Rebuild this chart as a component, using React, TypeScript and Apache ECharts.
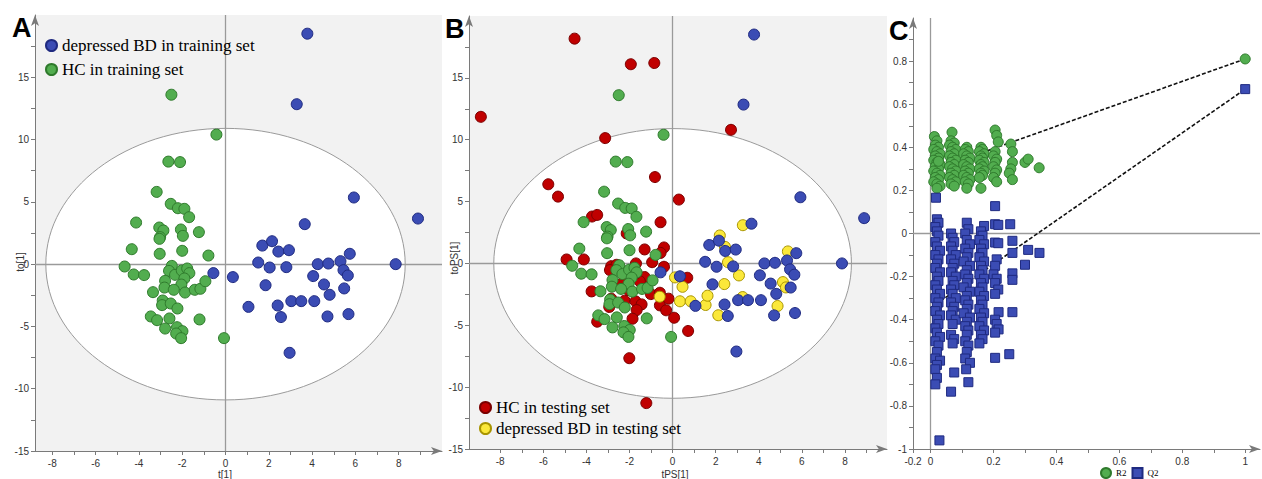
import React, { useEffect, useRef } from "react";
import * as echarts from "echarts";

// ---------- Panel A / B: OPLS-DA scores ----------
const trainHC: number[][] = [
  [-2.5, 13.6], [-0.42, 10.4], [-2.64, 8.23], [-2.1, 8.19], [-3.18, 5.8], [-2.53, 4.84], [-2.2, 4.49],
  [-1.9, 4.44], [-1.68, 3.77], [-4.13, 3.34], [-3.06, 2.94], [-2.87, 2.7], [-2.06, 2.78], [-1.23, 2.57],
  [-3.02, 2.17], [-1.97, 2.27], [-3.05, 2.03], [-4.33, 1.2], [-3.04, 0.83], [-2.0, 1.07], [-0.79, 0.69],
  [-4.66, -0.19], [-4.24, -0.83], [-3.76, -0.88], [-2.48, -0.14], [-2.61, -0.54], [-2.33, -0.86],
  [-2.02, -0.51], [-1.77, -0.35], [-1.67, -0.72], [-1.9, -1.15], [-2.79, -1.34], [-2.04, -1.64],
  [-2.82, -1.88], [-2.39, -2.06], [-1.87, -2.28], [-3.35, -2.25], [-1.42, -2.06], [-1.16, -1.98],
  [-0.93, -1.37], [-2.9, -2.92], [-2.93, -3.29], [-2.53, -3.16], [-2.22, -3.56], [-3.45, -4.2],
  [-3.16, -4.5], [-2.59, -4.36], [-1.2, -4.44], [-2.79, -5.17], [-2.24, -5.06], [-1.99, -5.38],
  [-2.28, -5.57], [-2.05, -5.94], [-0.07, -5.94],
];
const trainBD: number[][] = [
  [3.78, 18.5], [3.29, 12.84], [5.93, 5.35], [8.89, 3.66], [3.66, 3.21], [1.7, 1.49], [2.15, 1.84],
  [2.44, 1.01], [2.93, 1.12], [1.51, 0.13], [2.04, -0.27], [2.81, -0.24], [4.26, 0], [4.75, 0.05],
  [5.31, 0.24], [5.74, 0.83], [7.86, 0], [-0.56, -0.72], [0.34, -1.04], [1.85, -1.69], [4.05, -0.96],
  [4.55, -1.63], [5.45, -0.48], [5.65, -0.91], [5.48, -1.95], [4.81, -2.46], [3.04, -2.97], [3.5, -2.97],
  [4.1, -2.97], [2.41, -3.32], [1.06, -3.43], [2.56, -4.25], [4.71, -4.2], [5.68, -4.01], [2.96, -7.12],
];
const testHC: number[][] = [
  [-4.55, 18.17], [-8.9, 11.85], [-1.94, 16.1], [-0.85, 16.2], [2.71, 10.8], [-3.13, 10.13], [-0.82, 6.98],
  [-5.77, 6.4], [-5.32, 5.4], [0.29, 5.16], [-3.74, 3.79], [-3.5, 3.92], [-0.56, 3.33], [-2.13, 2.42],
  [-4.92, 0.32], [-4.12, 0.32], [-1.3, 1.13], [-0.4, 1.29], [-0.56, 0.85], [-0.95, 0.1], [-0.4, -0.27],
  [-2.85, -0.22], [-2.6, -0.11], [-1.7, 0], [-1.3, -1.1], [-1.52, -1.45], [-2.35, -1.61], [-3.76, -2.26],
  [-1.01, -2.48], [-0.59, -2.37], [-0.19, -2.85], [-2.85, -2.85], [-2.23, -3.02], [-1.72, -3.06],
  [-1.44, -3.31], [-2.94, -3.52], [-1.67, -3.77], [-0.59, -3.39], [-0.3, -3.79], [0.07, -4.39],
  [-1.86, -4.47], [-3.5, -4.71], [0.72, -5.46], [-2.01, -7.66], [-1.22, -11.29], [0.68, -1.16],
  [-2.41, -0.6], [-1.7, -0.81], [-2.91, -0.54], [-2.06, -2.15],
];
const testBD: number[][] = [
  [3.26, 3.09], [2.19, 2.26], [2.43, 1.34], [2.57, 0.1], [3.08, -0.97], [2.4, -1.67], [5.35, 0.97],
  [5.12, -1.51], [5.26, -1.94], [4.87, -3.44], [0.11, -1.13], [0.46, -1.89], [0.34, -3.06], [0.84, -3.06],
  [1.53, -3.36], [1.62, -2.61], [2.12, -4.19], [-0.6, -2.69], [3.25, -2.72],
];
// Hotelling T2 ellipse: centre and radii (t, to)
const ellipse: number[] = [0, 0, 8.3, 10.9];

const xTicksAB = [-8, -7, -6, -5, -4, -3, -2, -1, 0, 1, 2, 3, 4, 5, 6, 7, 8, 9];
const xLabelsAB = [-8, -6, -4, -2, 0, 2, 4, 6, 8];
const yTicksAB = [-15, -12.5, -10, -7.5, -5, -2.5, 0, 2.5, 5, 7.5, 10, 12.5, 15, 17.5];
const yLabelsAB = [-15, -10, -5, 0, 5, 10, 15];

// ---------- Panel C: permutation test ----------
const permR2: number[][] = [
  [0.012, 0.45], [0.02, 0.43], [0.015, 0.41], [0.025, 0.4], [0.01, 0.39], [0.02, 0.38], [0.03, 0.37],
  [0.015, 0.36], [0.025, 0.35], [0.01, 0.34], [0.02, 0.33], [0.03, 0.32], [0.015, 0.31], [0.025, 0.3],
  [0.01, 0.29], [0.02, 0.28], [0.03, 0.27], [0.015, 0.26], [0.025, 0.25], [0.01, 0.24], [0.02, 0.23],
  [0.03, 0.22], [0.02, 0.21], [0.025, 0.335],
  [0.068, 0.47], [0.065, 0.43], [0.075, 0.42], [0.06, 0.41], [0.07, 0.4], [0.08, 0.39], [0.065, 0.38],
  [0.075, 0.37], [0.06, 0.36], [0.07, 0.35], [0.08, 0.34], [0.065, 0.33], [0.075, 0.32], [0.06, 0.31],
  [0.07, 0.3], [0.08, 0.29], [0.065, 0.28], [0.075, 0.27], [0.06, 0.26], [0.07, 0.25], [0.08, 0.24],
  [0.065, 0.23], [0.075, 0.22],
  [0.115, 0.4], [0.11, 0.39], [0.12, 0.38], [0.105, 0.37], [0.115, 0.36], [0.125, 0.35], [0.11, 0.34],
  [0.12, 0.33], [0.105, 0.32], [0.115, 0.31], [0.125, 0.3], [0.11, 0.29], [0.12, 0.28], [0.105, 0.27],
  [0.115, 0.26], [0.125, 0.25], [0.11, 0.24], [0.12, 0.23], [0.115, 0.21],
  [0.16, 0.4], [0.165, 0.39], [0.155, 0.38], [0.17, 0.37], [0.16, 0.36], [0.165, 0.35], [0.155, 0.34],
  [0.17, 0.33], [0.16, 0.32], [0.165, 0.31], [0.155, 0.3], [0.17, 0.29], [0.16, 0.28], [0.165, 0.27],
  [0.155, 0.26], [0.16, 0.21],
  [0.205, 0.48], [0.21, 0.455], [0.215, 0.425], [0.205, 0.38], [0.2, 0.36], [0.21, 0.345], [0.205, 0.33],
  [0.2, 0.31], [0.21, 0.295], [0.205, 0.28], [0.2, 0.26], [0.21, 0.24],
  [0.255, 0.415], [0.26, 0.38], [0.26, 0.33], [0.255, 0.3], [0.25, 0.28], [0.26, 0.25],
  [0.3, 0.33], [0.31, 0.345], [0.345, 0.305],
];
const permQ2: number[][] = [
  [0.017, 0.166], [0.02, 0.066], [0.025, 0.05], [0.015, 0.03], [0.02, 0.01], [0.025, -0.01], [0.015, -0.04],
  [0.02, -0.06], [0.03, -0.08], [0.015, -0.1], [0.025, -0.12], [0.02, -0.14], [0.015, -0.16], [0.03, -0.18],
  [0.02, -0.2], [0.025, -0.22], [0.015, -0.24], [0.02, -0.26], [0.03, -0.28], [0.015, -0.3], [0.025, -0.32],
  [0.02, -0.34], [0.015, -0.36], [0.03, -0.38], [0.02, -0.4], [0.025, -0.42], [0.015, -0.44], [0.02, -0.46],
  [0.03, -0.48], [0.015, -0.5], [0.025, -0.52], [0.02, -0.55], [0.015, -0.58], [0.03, -0.59], [0.02, -0.61],
  [0.015, -0.63], [0.02, -0.67], [0.015, -0.7], [0.028, -0.96],
  [0.065, 0.0], [0.07, -0.02], [0.075, -0.04], [0.065, -0.06], [0.07, -0.08], [0.08, -0.1], [0.065, -0.12],
  [0.075, -0.14], [0.07, -0.16], [0.065, -0.18], [0.08, -0.2], [0.07, -0.22], [0.075, -0.24], [0.065, -0.26],
  [0.07, -0.28], [0.08, -0.3], [0.065, -0.32], [0.075, -0.34], [0.07, -0.36], [0.065, -0.38], [0.08, -0.4],
  [0.07, -0.42], [0.065, -0.47], [0.075, -0.49], [0.07, -0.51], [0.075, -0.645], [0.065, -0.734],
  [0.115, 0.05], [0.12, 0.02], [0.11, 0.0], [0.115, -0.03], [0.125, -0.05], [0.11, -0.07], [0.12, -0.09],
  [0.115, -0.11], [0.105, -0.13], [0.125, -0.15], [0.115, -0.17], [0.11, -0.19], [0.12, -0.21], [0.115, -0.23],
  [0.105, -0.25], [0.125, -0.27], [0.115, -0.29], [0.11, -0.31], [0.12, -0.33], [0.115, -0.35], [0.105, -0.37],
  [0.125, -0.39], [0.115, -0.41], [0.11, -0.43], [0.12, -0.45], [0.115, -0.47], [0.11, -0.5], [0.12, -0.52],
  [0.115, -0.55], [0.11, -0.58], [0.125, -0.6], [0.113, -0.63], [0.12, -0.69],
  [0.17, 0.035], [0.16, 0.01], [0.165, -0.01], [0.155, -0.03], [0.17, -0.05], [0.16, -0.07], [0.165, -0.09],
  [0.155, -0.11], [0.17, -0.13], [0.16, -0.15], [0.165, -0.17], [0.155, -0.19], [0.17, -0.21], [0.16, -0.23],
  [0.165, -0.25], [0.155, -0.27], [0.17, -0.29], [0.16, -0.31], [0.165, -0.33], [0.155, -0.35], [0.17, -0.37],
  [0.16, -0.39], [0.165, -0.41], [0.155, -0.43], [0.17, -0.45], [0.16, -0.47], [0.165, -0.49], [0.155, -0.51],
  [0.205, 0.127], [0.205, 0.043], [0.215, 0.04], [0.205, -0.042], [0.215, -0.045], [0.21, -0.12],
  [0.205, -0.15], [0.2, -0.19], [0.21, -0.21], [0.205, -0.23], [0.215, -0.26], [0.205, -0.28],
  [0.216, -0.365], [0.205, -0.4], [0.21, -0.42], [0.216, -0.445], [0.205, -0.46], [0.205, -0.577],
  [0.253, 0.043], [0.26, -0.034], [0.26, -0.09], [0.26, -0.185], [0.26, -0.215], [0.26, -0.365], [0.25, -0.56],
  [0.31, -0.076], [0.346, -0.09], [0.3, -0.145],
];
const origR2: number[] = [1, 0.81];
const origQ2: number[] = [1, 0.67];
const r2Intercept: number[] = [0, 0.29];
const q2Intercept: number[] = [0, -0.345];

const xMinC = -0.056;
const xTicksC = [xMinC, 0, 0.1, 0.2, 0.3, 0.4, 0.5, 0.6, 0.7, 0.8, 0.9, 1];
const xLabelsC = [xMinC, 0, 0.2, 0.4, 0.6, 0.8, 1];
const yTicksC = [-1, -0.9, -0.8, -0.7, -0.6, -0.5, -0.4, -0.3, -0.2, -0.1, 0, 0.1, 0.2, 0.3, 0.4, 0.5, 0.6, 0.7, 0.8, 0.9];
const yLabelsC = [-1, -0.8, -0.6, -0.4, -0.2, 0, 0.2, 0.4, 0.6, 0.8];

const GREEN = "#52ad4f";
const GREEN_B = "#2f7a2c";
const BLUE = "#3b4cb4";
const BLUE_B = "#1f2a80";
const RED = "#c00000";
const RED_B = "#7a0000";
const YELLOW = "#fbe83a";
const YELLOW_B = "#a89400";

const SANS = "'Liberation Sans', Arial, sans-serif";
const SERIF = "'Liberation Serif', 'Times New Roman', serif";

const fmt = (v: number) => String(Math.round(v * 10) / 10);

function axis(gridIndex: number, min: number, max: number, ticks: number[], labels: number[], isX: boolean, labelFmt?: (v: number) => string) {
  return {
    type: "value",
    gridIndex,
    min,
    max,
    axisLine: {
      show: true,
      onZero: false,
      lineStyle: { color: "#7a7a7a", width: 1 },
      symbol: ["none", "arrow"],
      symbolSize: [6, 11],
    },
    axisTick: { show: true, length: 4, customValues: ticks, lineStyle: { color: "#7a7a7a" } },
    axisLabel: {
      customValues: labels,
      color: "#333",
      fontSize: 10,
      fontFamily: SANS,
      margin: isX ? 7 : 6,
      formatter: labelFmt || ((v: number) => fmt(v)),
    },
    splitLine: { show: false },
  };
}

const zeroLines = {
  silent: true,
  z: 2,
  symbol: ["none", "none"],
  label: { show: false },
  lineStyle: { color: "#9a9a9a", width: 1.3, type: "solid" },
  data: [{ xAxis: 0 }, { yAxis: 0 }],
};

function ellipseSeries(idx: number) {
  return {
    type: "custom",
    xAxisIndex: idx,
    yAxisIndex: idx,
    silent: true,
    z: 1,
    data: [ellipse],
    renderItem: (_p: any, api: any) => {
      const c = api.coord([api.value(0), api.value(1)]);
      const s = api.size([api.value(2), api.value(3)]);
      return {
        type: "ellipse",
        shape: { cx: c[0], cy: c[1], rx: s[0], ry: s[1] },
        style: { fill: "#ffffff", stroke: "#9a9a9a", lineWidth: 1 },
      };
    },
  };
}

function scatter(name: string, idx: number, data: number[][], color: string, border: string, size = 11, symbol = "circle", extra: any = {}) {
  return {
    type: "scatter",
    name,
    xAxisIndex: idx,
    yAxisIndex: idx,
    data,
    symbol,
    symbolSize: size,
    z: 3,
    itemStyle: { color, borderColor: border, borderWidth: 1, opacity: 1 },
    emphasis: { disabled: true },
    ...extra,
  };
}

export default function App() {
  const ref = useRef<HTMLDivElement>(null);
  useEffect(() => {
    if (!ref.current) return;
    const chart = echarts.init(ref.current, null, { renderer: "svg" });
    const option: any = {
      animation: false,
      backgroundColor: "#ffffff",
      grid: [
        { left: 35, top: 15, width: 407, height: 436, show: true, backgroundColor: "#f2f2f2", borderWidth: 0 },
        { left: 469, top: 16, width: 418, height: 433, show: true, backgroundColor: "#f2f2f2", borderWidth: 0 },
        { left: 913, top: 18, width: 347, height: 431, show: true, backgroundColor: "#ffffff", borderWidth: 0 },
      ],
      xAxis: [
        axis(0, -8.8, 10, xTicksAB, xLabelsAB, true),
        axis(1, -9.45, 9.95, xTicksAB, xLabelsAB, true),
        axis(2, xMinC, 1.047, xTicksC, xLabelsC, true, (v: number) => (v < -0.01 ? "-0.2" : fmt(v))),
      ],
      yAxis: [
        axis(0, -15, 20, yTicksAB, yLabelsAB, false),
        axis(1, -15, 20, yTicksAB, yLabelsAB, false),
        axis(2, -1, 1, yTicksC, yLabelsC, false),
      ],
      legend: [
        {
          data: ["depressed BD in training set", "HC in training set"],
          orient: "vertical",
          left: 45,
          top: 37,
          padding: 0,
          itemWidth: 11,
          itemHeight: 11,
          itemGap: 7,
          selectedMode: false,
          textStyle: { fontFamily: SERIF, fontSize: 17, color: "#000", lineHeight: 17 },
        },
        {
          data: ["HC in testing set", "depressed BD in testing set"],
          orient: "vertical",
          left: 479,
          top: 399,
          padding: 0,
          itemWidth: 11,
          itemHeight: 11,
          itemGap: 4,
          selectedMode: false,
          textStyle: { fontFamily: SERIF, fontSize: 17, color: "#000", lineHeight: 17 },
        },
        {
          data: [
            { name: "R2", icon: "circle" },
            { name: "Q2", icon: "rect" },
          ],
          orient: "horizontal",
          left: 1100,
          top: 467,
          padding: 0,
          itemWidth: 10,
          itemHeight: 10,
          itemGap: 5,
          selectedMode: false,
          textStyle: { fontFamily: SERIF, fontSize: 9, color: "#000" },
        },
      ],
      series: [
        { ...ellipseSeries(0) },
        scatter("HC in training set", 0, trainHC, GREEN, GREEN_B, 11, "circle", { markLine: zeroLines }),
        scatter("depressed BD in training set", 0, trainBD, BLUE, BLUE_B),
        { ...ellipseSeries(1) },
        scatter("HC in testing set", 1, testHC, RED, RED_B, 11, "circle", { markLine: zeroLines }),
        scatter("depressed BD in testing set", 1, testBD, YELLOW, YELLOW_B),
        scatter("HC in training set", 1, trainHC, GREEN, GREEN_B),
        scatter("depressed BD in training set", 1, trainBD, BLUE, BLUE_B),
        {
          type: "line",
          name: "R2 line",
          xAxisIndex: 2,
          yAxisIndex: 2,
          data: [r2Intercept, origR2],
          symbol: "none",
          z: 2,
          lineStyle: { color: "#111", width: 1.6, type: [4, 2] },
          markLine: zeroLines,
        },
        {
          type: "line",
          name: "Q2 line",
          xAxisIndex: 2,
          yAxisIndex: 2,
          data: [q2Intercept, origQ2],
          symbol: "none",
          z: 2,
          lineStyle: { color: "#111", width: 1.6, type: [4, 2] },
        },
        scatter("R2", 2, [...permR2, origR2], GREEN, GREEN_B, 10, "circle"),
        scatter("Q2", 2, [...permQ2, origQ2], BLUE, BLUE_B, 9, "rect"),
      ],
      graphic: [
        { type: "text", left: 12, top: 14, style: { text: "A", font: `bold 27px ${SANS}`, fill: "#000" } },
        { type: "text", left: 445, top: 15, style: { text: "B", font: `bold 27px ${SANS}`, fill: "#000" } },
        { type: "text", left: 889, top: 17, style: { text: "C", font: `bold 27px ${SANS}`, fill: "#000" } },
        { type: "text", x: 225, y: 474, style: { text: "t[1]", font: `10px ${SANS}`, fill: "#333", textAlign: "center", textVerticalAlign: "middle" } },
        { type: "text", x: 20, y: 262, rotation: Math.PI / 2, style: { text: "to[1]", font: `10px ${SANS}`, fill: "#333", textAlign: "center", textVerticalAlign: "middle" } },
        { type: "text", x: 675, y: 474, style: { text: "tPS[1]", font: `10px ${SANS}`, fill: "#333", textAlign: "center", textVerticalAlign: "middle" } },
        { type: "text", x: 454, y: 258, rotation: Math.PI / 2, style: { text: "toPS[1]", font: `10px ${SANS}`, fill: "#333", textAlign: "center", textVerticalAlign: "middle" } },
      ],
    };
    chart.setOption(option);
    return () => chart.dispose();
  }, []);
  return <div ref={ref} style={{ position: "fixed", left: 0, top: 0, width: 1262, height: 479 }} />;
}
